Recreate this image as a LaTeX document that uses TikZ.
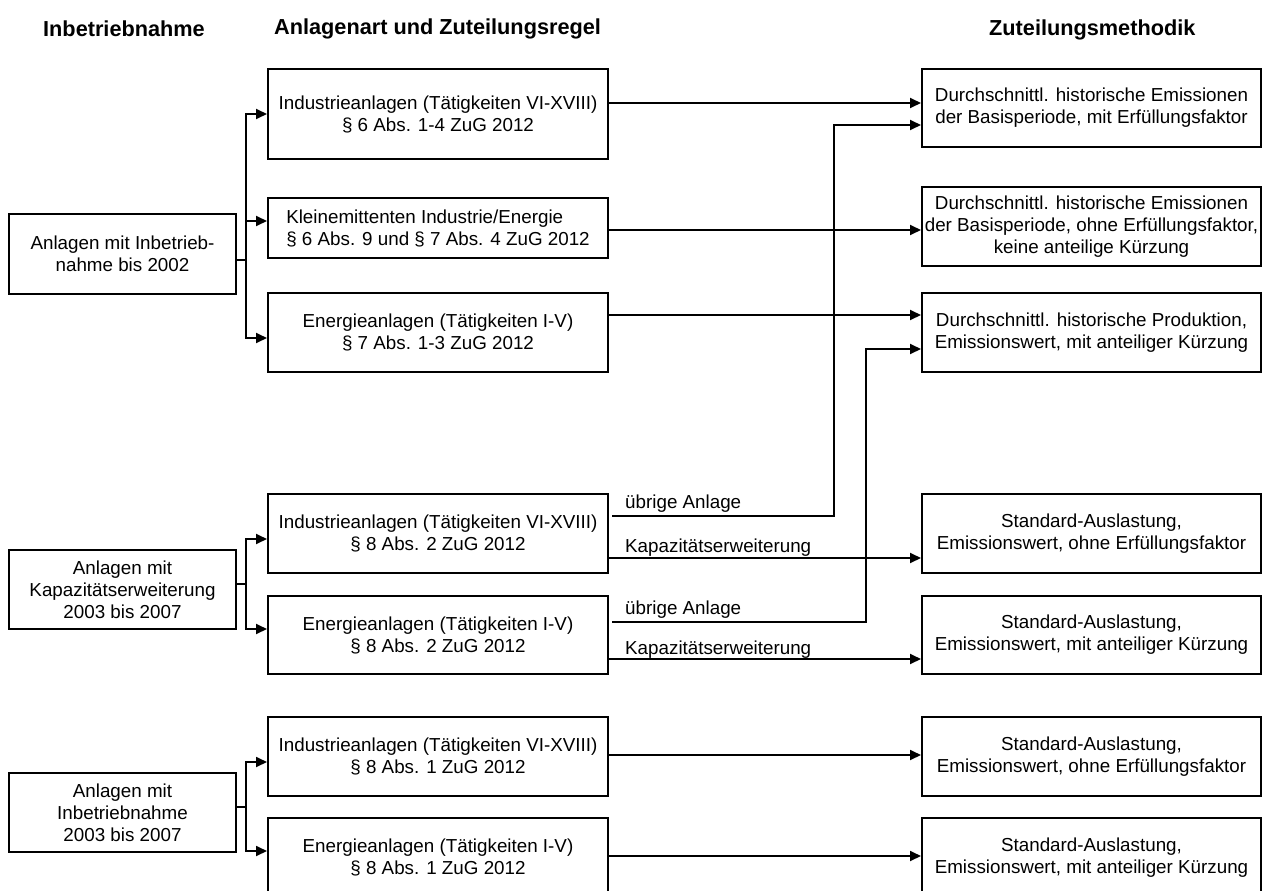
\documentclass[tikz,border=0pt]{standalone}
\usepackage{fontspec}
\setmainfont{Liberation Sans}
\usetikzlibrary{arrows.meta,calc}
\begin{document}
\begin{tikzpicture}[x=1pt,y=-1pt,
 box/.style={draw, line width=2pt, inner sep=0pt, align=center, font=\fontsize{18.8}{22}\selectfont},
 lw/.style={minimum width=227pt, minimum height=79pt},
 mw/.style={minimum width=340pt, minimum height=79pt},
 rw/.style={minimum width=339pt, minimum height=79pt},
 conn/.style={line width=1.8pt},
 arr/.style={conn, -{Triangle[length=11pt,width=10pt]}},
 head/.style={font=\fontsize{21.7}{25}\selectfont\bfseries, anchor=west, inner sep=0pt},
 lab/.style={font=\fontsize{18.8}{22}\selectfont, anchor=base west, inner sep=0pt}]
\useasboundingbox (0,0) rectangle (1266,891);

% headers
\node[head] (h1) at (43,29) {Inbetriebnahme};
\node[head] (h2) at (274,29) {Anlagenart und Zuteilungsregel};
\node[head] (h3) at (989,30) {Zuteilungsmethodik};

% left column
\node[box,lw,minimum height=80pt] (L1) at (122.5,254) {Anlagen mit Inbetrieb-\\nahme bis 2002};
\node[box,lw] (L2) at (122.5,589.5) {Anlagen mit\\Kapazitätserweiterung\\2003 bis 2007};
\node[box,lw] (L3) at (122.5,812.5) {Anlagen mit\\Inbetriebnahme\\2003 bis 2007};

% middle column
\node[box,mw,minimum height=90pt] (M1) at (438,114) {Industrieanlagen (Tätigkeiten VI-XVIII)\\§ 6 Abs. 1-4 ZuG 2012};
\node[box,mw,minimum height=60pt,align=left] (M2) at (438,228) {Kleinemittenten Industrie/Energie\\§ 6 Abs. 9 und § 7 Abs. 4 ZuG 2012};
\node[box,mw] (M3) at (438,332.5) {Energieanlagen (Tätigkeiten I-V)\\§ 7 Abs. 1-3 ZuG 2012};
\node[box,mw] (M4) at (438,533.5) {Industrieanlagen (Tätigkeiten VI-XVIII)\\§ 8 Abs. 2 ZuG 2012};
\node[box,mw,minimum height=78pt] (M5) at (438,635) {Energieanlagen (Tätigkeiten I-V)\\§ 8 Abs. 2 ZuG 2012};
\node[box,mw] (M6) at (438,756.5) {Industrieanlagen (Tätigkeiten VI-XVIII)\\§ 8 Abs. 1 ZuG 2012};
\node[box,mw] (M7) at (438,857.5) {Energieanlagen (Tätigkeiten I-V)\\§ 8 Abs. 1 ZuG 2012};

% right column
\node[box,rw,minimum height=78pt] (R1) at (1091.5,108) {Durchschnittl. historische Emissionen\\der Basisperiode, mit Erfüllungsfaktor};
\node[box,rw] (R2) at (1091.5,226.5) {Durchschnittl. historische Emissionen\\der Basisperiode, ohne Erfüllungsfaktor,\\keine anteilige Kürzung};
\node[box,rw] (R3) at (1091.5,332.5) {Durchschnittl. historische Produktion,\\Emissionswert, mit anteiliger Kürzung};
\node[box,rw] (R4) at (1091.5,533.5) {Standard-Auslastung,\\Emissionswert, ohne Erfüllungsfaktor};
\node[box,rw,minimum height=78pt] (R5) at (1091.5,635) {Standard-Auslastung,\\Emissionswert, mit anteiliger Kürzung};
\node[box,rw] (R6) at (1091.5,756.5) {Standard-Auslastung,\\Emissionswert, ohne Erfüllungsfaktor};
\node[box,rw] (R7) at (1091.5,857.5) {Standard-Auslastung,\\Emissionswert, mit anteiliger Kürzung};

% left branches
\coordinate (j1) at (246,260);
\draw[conn] (L1.east |- j1) -- (j1);
\draw[arr] (j1) |- (M1.west);
\draw[arr] (j1) |- (M2.west |- 0,221);
\draw[arr] (j1) |- (M3.west |- 0,338);

\coordinate (j2) at (246,584);
\draw[conn] (L2.east |- j2) -- (j2);
\draw[arr] (j2) |- (M4.west |- 0,539);
\draw[arr] (j2) |- (M5.west |- 0,629);

\coordinate (j3) at (246,807);
\draw[conn] (L3.east |- j3) -- (j3);
\draw[arr] (j3) |- (M6.west |- 0,762);
\draw[arr] (j3) |- (M7.west |- 0,851);

% right connectors
\draw[arr] (M1.east |- 0,103) -- (R1.west |- 0,103);
\draw[arr] (M2.east |- 0,230) -- (R2.west |- 0,230);
\draw[arr] (M3.east |- 0,315) -- (R3.west |- 0,315);

\coordinate (v1) at (834,516);
\coordinate (v2) at (866,622);
\draw[arr] ($(M4.east |- v1)+(3,0)$) -- (v1) |- (R1.west |- 0,125);
\draw[arr] (M4.east |- 0,558) -- (R4.west |- 0,558);
\draw[arr] ($(M5.east |- v2)+(3,0)$) -- (v2) |- (R3.west |- 0,349);
\draw[arr] (M5.east |- 0,659) -- (R5.west |- 0,659);
\draw[arr] (M6.east |- 0,755) -- (R6.west |- 0,755);
\draw[arr] (M7.east |- 0,856) -- (R7.west |- 0,856);

% labels
\node[lab] (la1) at (625,508) {übrige Anlage};
\node[lab] (la2) at (625,552) {Kapazitätserweiterung};
\node[lab] (la3) at (625,614) {übrige Anlage};
\node[lab] (la4) at (625,654) {Kapazitätserweiterung};
\end{tikzpicture}
\end{document}
